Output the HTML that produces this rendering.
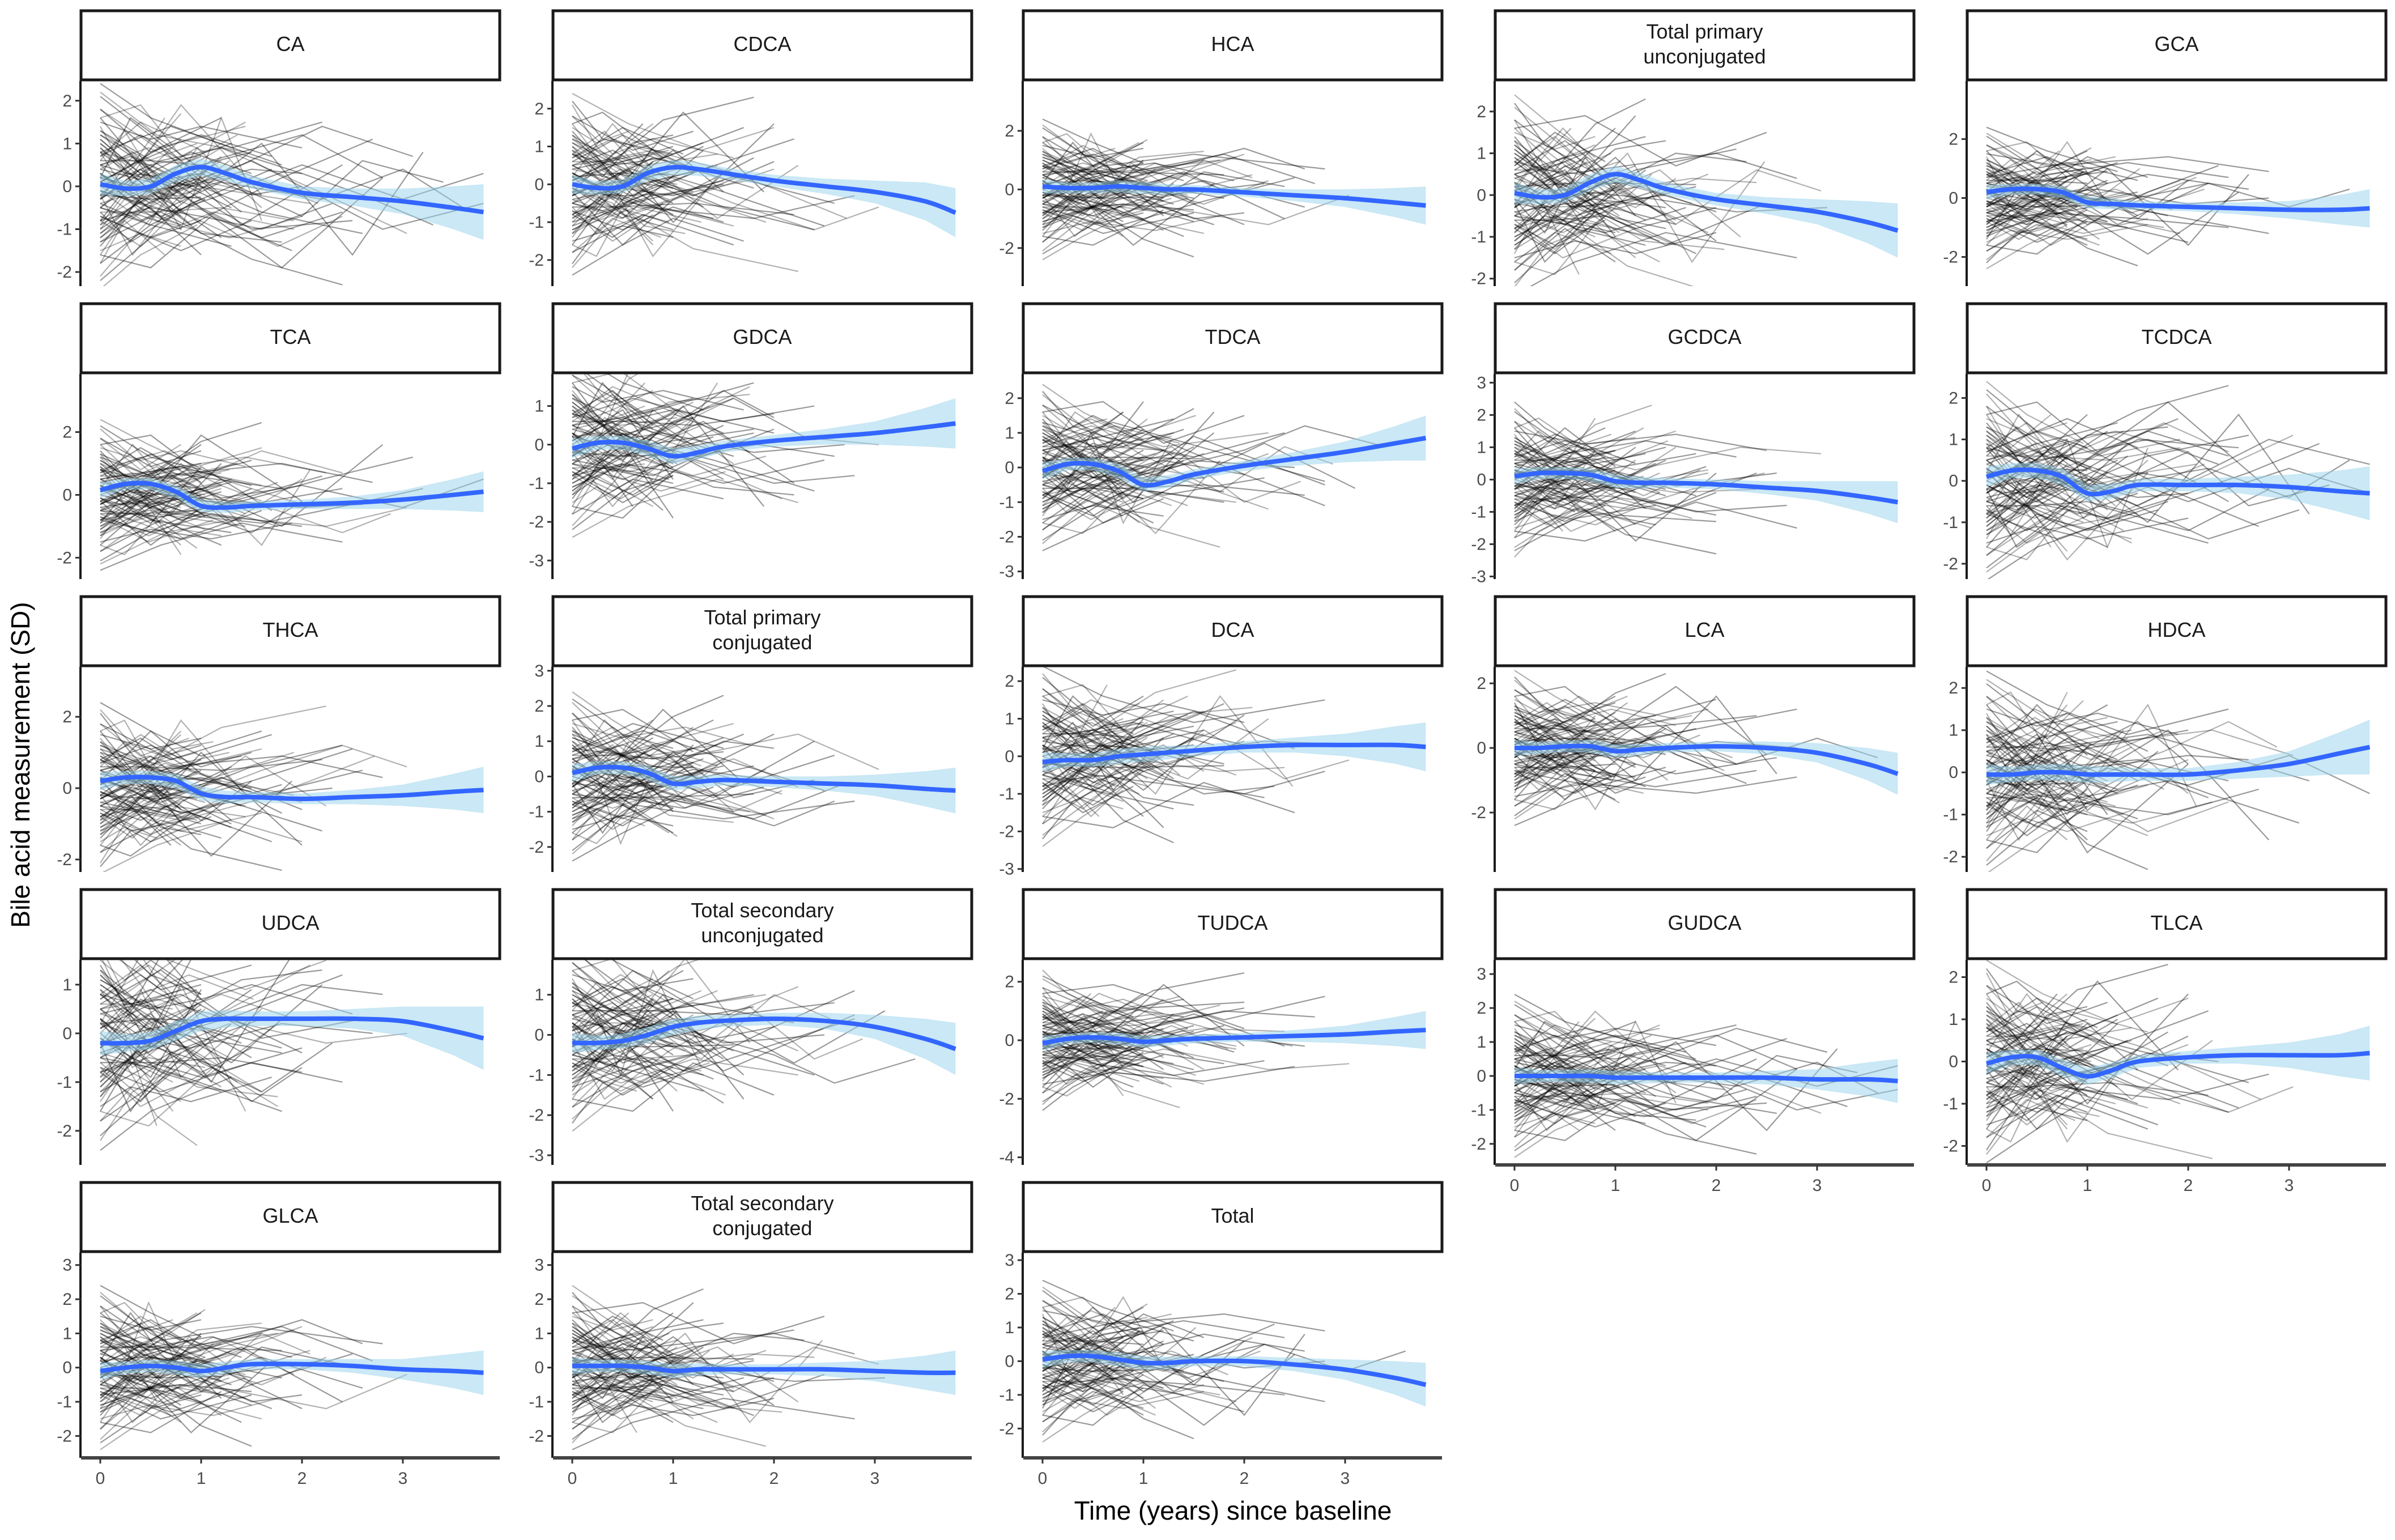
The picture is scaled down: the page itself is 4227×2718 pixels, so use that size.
<!DOCTYPE html>
<html><head><meta charset="utf-8">
<style>
html,body{margin:0;padding:0;background:#fff;}
svg{display:block;font-family:"Liberation Sans",Arial,sans-serif;}
</style></head>
<body>
<svg id="fig" width="4227" height="2718" viewBox="0 0 4227 2718" xmlns="http://www.w3.org/2000/svg">
<rect width="4227" height="2718" fill="#fff"/>
<text x="2176" y="2682" font-size="46" text-anchor="middle" fill="#000">Time (years) since baseline</text>
<text x="0" y="0" font-size="46" text-anchor="middle" fill="#000" transform="translate(52,1350) rotate(-90)">Bile acid measurement (SD)</text>
</svg>
<script>
// ---- data ----
const panelNames = ["CA","CDCA","HCA","Total primary|unconjugated","GCA",
 "TCA","GDCA","TDCA","GCDCA","TCDCA",
 "THCA","Total primary|conjugated","DCA","LCA","HDCA",
 "UDCA","Total secondary|unconjugated","TUDCA","GUDCA","TLCA",
 "GLCA","Total secondary|conjugated","Total"];
const yTop = [2.46,2.73,3.7,2.73,3.97, 3.85,1.83,2.70,3.27,2.58, 3.40,3.11,2.38,2.51,2.5, 1.51,1.87,2.75,3.42,2.41, 3.36,3.36,3.22];
const yBottom = [-2.33,-2.69,-3.3,-2.18,-2.99, -2.68,-3.48,-3.22,-3.08,-2.37, -2.35,-2.71,-3.08,-3.84,-2.36, -2.70,-3.24,-4.26,-2.62,-2.45, -2.64,-2.64,-2.87];
const yTicks = [[-2,-1,0,1,2],[-2,-1,0,1,2],[-2,0,2],[-2,-1,0,1,2],[-2,0,2],
 [-2,0,2],[-3,-2,-1,0,1],[-3,-2,-1,0,1,2],[-3,-2,-1,0,1,2,3],[-2,-1,0,1,2],
 [-2,0,2],[-2,-1,0,1,2,3],[-3,-2,-1,0,1,2],[-2,0,2],[-2,-1,0,1,2],
 [-2,-1,0,1],[-3,-2,-1,0,1],[-4,-2,0,2],[-2,-1,0,1,2,3],[-2,-1,0,1,2],
 [-2,-1,0,1,2,3],[-2,-1,0,1,2,3],[-2,-1,0,1,2,3]];
const xTicks = [0,1,2,3];
const smoothT = [0,0.25,0.5,0.75,1,1.25,1.5,2,2.5,3,3.5,3.8];
const smoothY = [
 [0.05,-0.05,0,0.3,0.45,0.3,0.1,-0.15,-0.25,-0.35,-0.5,-0.6],
 [0,-0.1,-0.05,0.3,0.45,0.4,0.3,0.1,-0.05,-0.2,-0.45,-0.75],
 [0.1,0.05,0.05,0.1,0.05,0,0,-0.1,-0.2,-0.3,-0.45,-0.55],
 [0.05,-0.05,0,0.3,0.5,0.35,0.15,-0.1,-0.25,-0.4,-0.65,-0.85],
 [0.2,0.3,0.3,0.2,-0.15,-0.2,-0.25,-0.3,-0.35,-0.4,-0.4,-0.35],
 [0.15,0.35,0.35,0.1,-0.35,-0.4,-0.35,-0.3,-0.25,-0.15,0,0.1],
 [-0.1,0.05,0.05,-0.1,-0.3,-0.2,-0.05,0.1,0.2,0.3,0.45,0.55],
 [-0.1,0.1,0.1,-0.1,-0.5,-0.4,-0.2,0.05,0.25,0.45,0.7,0.85],
 [0.1,0.2,0.2,0.15,-0.05,-0.1,-0.1,-0.15,-0.25,-0.35,-0.55,-0.7],
 [0.1,0.25,0.25,0.1,-0.3,-0.25,-0.1,-0.1,-0.1,-0.15,-0.25,-0.3],
 [0.2,0.3,0.3,0.2,-0.15,-0.25,-0.25,-0.3,-0.25,-0.2,-0.1,-0.05],
 [0.1,0.25,0.25,0.1,-0.2,-0.15,-0.1,-0.15,-0.2,-0.25,-0.35,-0.4],
 [-0.15,-0.1,-0.1,0,0.05,0.1,0.15,0.25,0.3,0.3,0.3,0.25],
 [0,0,0.05,0.05,-0.1,-0.05,0,0.05,0,-0.15,-0.5,-0.8],
 [-0.05,-0.05,0,0,-0.05,-0.05,-0.05,-0.05,0.05,0.2,0.45,0.6],
 [-0.2,-0.2,-0.15,0.05,0.25,0.3,0.3,0.3,0.3,0.25,0.05,-0.1],
 [-0.2,-0.2,-0.15,0,0.2,0.3,0.35,0.4,0.35,0.2,-0.1,-0.35],
 [-0.1,0.05,0.1,0.05,-0.05,0,0.05,0.1,0.15,0.2,0.3,0.35],
 [0,0,0,0,-0.05,-0.05,-0.05,-0.05,-0.05,-0.1,-0.1,-0.15],
 [-0.05,0.1,0.1,-0.15,-0.35,-0.2,0,0.1,0.15,0.15,0.15,0.2],
 [-0.1,0,0.05,0,-0.1,0,0.1,0.1,0.05,-0.05,-0.1,-0.15],
 [0.05,0.05,0.05,0,-0.1,-0.05,-0.05,-0.05,-0.05,-0.1,-0.15,-0.15],
 [0.05,0.15,0.15,0.05,-0.05,-0.05,0,0,-0.1,-0.25,-0.5,-0.7]];
const ribbonHalf = [0.25,0.18,0.18,0.2,0.2,0.18,0.15,0.15,0.2,0.3,0.5,0.65];
const subjects = [
[[0,1.2],[0.5,0.4],[1,-0.3]],
[[0,-0.5],[0.4,0.2],[0.9,0.8],[1.5,0.3]],
[[0,2.1],[0.6,1.0],[1.2,-0.2]],
[[0,-1.2],[0.3,-0.6],[0.8,-1.0]],
[[0,0.3],[0.5,-0.4],[1.1,0.6],[2.0,1.2],[2.8,0.2]],
[[0,-0.2],[0.5,-0.3],[1.0,-0.25]],
[[0,0.8],[0.7,1.4],[1.8,0.5]],
[[0,-1.8],[0.5,-0.9],[1.3,-1.4]],
[[0,0.5],[0.3,0.7],[0.6,0.2],[1.0,-0.5],[1.6,-1.2],[2.4,-0.6]],
[[0,-0.7],[0.8,-1.5],[1.5,-0.8]],
[[0,1.5],[0.5,1.1],[1.0,1.4],[2.0,0.9]],
[[0,-0.4],[0.4,-0.8],[1.2,0.1],[2.2,-0.3],[3.0,0.4],[3.6,-0.5]],
[[0,0.1],[0.6,0.9],[1.4,-0.9],[2.4,0.5]],
[[0,-1.0],[0.5,-0.2],[1.0,-1.1],[1.8,-1.3]],
[[0,1.0],[0.4,0.3],[0.9,0.0]],
[[0,-0.1],[0.7,-0.6],[1.6,1.0],[2.5,-1.6],[3.2,0.8]],
[[0,0.6],[0.5,0.6],[1.0,0.5],[1.5,0.8]],
[[0,-1.4],[0.6,0.3],[1.3,-0.5]],
[[0,0.2],[0.3,1.6],[1.0,0.4],[2.0,-0.7],[2.6,0.6],[3.4,0.1]],
[[0,-0.8],[0.5,-0.5],[1.0,-0.7],[1.6,-1.0],[2.3,-0.4]],
[[0,1.8],[0.5,0.8],[1.2,1.6]],
[[0,-0.3],[0.4,0.4],[0.8,-0.2],[1.3,0.2]],
[[0,0.9],[0.6,-0.3],[1.5,0.6],[2.8,-1.0],[3.8,-0.4]],
[[0,-2.2],[0.5,-1.2],[1.0,-0.8]],
[[0,0.4],[0.5,0.1],[1.0,0.3],[1.5,-0.2],[2.0,0.0]],
[[0,-0.6],[0.3,-1.3],[0.9,-0.4],[1.7,0.4]],
[[0,1.3],[0.8,0.2],[1.6,-0.6],[2.6,-1.1]],
[[0,0.0],[0.5,0.5],[1.0,-0.1]],
[[0,-0.9],[0.6,-0.1],[1.4,0.5],[2.2,1.4],[3.1,0.7]],
[[0,0.7],[0.4,1.2],[0.8,0.6],[1.3,1.0]],
[[0,-1.6],[0.5,-1.9],[1.1,-0.7],[1.9,-1.5]],
[[0,0.3],[0.6,-0.7],[1.2,-0.2],[2.0,0.5],[3.0,-0.3],[3.8,0.3]],
[[0,-0.2],[0.5,0.8],[1.0,1.2],[1.7,0.7]],
[[0,1.1],[0.3,0.5],[0.7,0.9]],
[[0,-0.5],[0.5,-0.9],[1.0,-0.3],[1.5,-1.0],[2.5,-0.8]],
[[0,0.5],[0.7,0.0],[1.8,-1.9],[2.8,0.2]],
[[0,-1.1],[0.4,-0.3],[0.9,0.3],[1.4,-0.6]],
[[0,2.4],[0.5,1.6],[1.3,0.9],[2.2,1.5]],
[[0,-0.1],[0.5,-0.5],[1.0,-1.6]],
[[0,0.8],[0.4,0.1],[0.9,-0.9],[1.8,0.2],[2.7,1.1]],
[[0,-0.3],[0.6,0.6],[1.2,0.9],[2.0,0.3],[2.6,-0.2],[3.3,-0.9]],
[[0,1.6],[0.5,0.2],[1.0,0.7]],
[[0,-0.8],[0.3,0.1],[0.7,-0.4],[1.2,-1.2]],
[[0,0.2],[0.5,-0.1],[1.0,0.1],[1.5,0.4],[2.0,0.3]],
[[0,-1.3],[0.6,-0.6],[1.5,-1.7],[2.4,-2.3]]];

// ---- layout ----
const NS = "http://www.w3.org/2000/svg";
const svg = document.getElementById("fig");
const colLeft = [143,976,1806,2639,3472];
const stripW = 739, stripH = 126, plotH = 362, rowPitch = 517, top0 = 17;
const xAxisPanels = [18,19,20,21,22];
function mk(tag, attrs, parent){
  const e = document.createElementNS(NS, tag);
  for (const k in attrs) e.setAttribute(k, attrs[k]);
  (parent||svg).appendChild(e);
  return e;
}
function smoothPath(pts){
  let d = "M"+pts[0][0]+","+pts[0][1];
  for (let i=0;i<pts.length-1;i++){
    const p0=pts[Math.max(0,i-1)],p1=pts[i],p2=pts[i+1],p3=pts[Math.min(pts.length-1,i+2)];
    const c1x=p1[0]+(p2[0]-p0[0])/6,c1y=p1[1]+(p2[1]-p0[1])/6;
    const c2x=p2[0]-(p3[0]-p1[0])/6,c2y=p2[1]-(p3[1]-p1[1])/6;
    d+=" C"+c1x+","+c1y+" "+c2x+","+c2y+" "+p2[0]+","+p2[1];
  }
  return d;
}
panelNames.forEach((name,p)=>{
  const col=p%5,row=Math.floor(p/5);
  const L=colLeft[col], sT=top0+row*rowPitch, pT=sT+stripH, pB=pT+plotH;
  const xS=t=>L+34+t*178;
  const yS=v=>pT+(yTop[p]-v)/(yTop[p]-yBottom[p])*plotH;
  const g=mk("g",{});
  
  
  const clipId="c"+p;
  const cp=mk("clipPath",{id:clipId},g);
  mk("rect",{x:L,y:pT,width:stripW,height:plotH},cp);
  const sr=mk("rect",{x:L,y:sT+2,width:stripW,height:stripH-4,fill:"#fff",stroke:"#1a1a1a","stroke-width":5},g);
  
  
  const parts=name.split("|");
  parts.forEach((s,i)=>{
    const tx=mk("text",{x:L+stripW/2,y:sT+stripH/2+10+(i-(parts.length-1)/2)*44,"font-size":36,"text-anchor":"middle",fill:"#1a1a1a"},g);
    tx.textContent=s;
    
    
  });
  const pg=mk("g",{"clip-path":"url(#"+clipId+")"},g);
  [0,1].forEach(pass=>{
    subjects.forEach((s,j)=>{
      const vs=subjects[(j+5*p+17*pass)%subjects.length];
      const n=Math.min(s.length,vs.length);
      if(n<2) return;
      const sg=((p+pass)%2)?-1:1;
      const pts=[];
      for(let k=0;k<n;k++) pts.push(xS(s[k][0]*(pass?0.8:1)).toFixed(1)+","+yS(sg*vs[k][1]).toFixed(1));
      const pl=mk("polyline",{points:pts.join(" "),fill:"none",stroke:pass?"rgba(0,0,0,0.3)":"rgba(0,0,0,0.4)","stroke-width":2.2},pg);
      
      
    });
  });
  const up=smoothT.map((t,i)=>[xS(t),yS(smoothY[p][i]+ribbonHalf[i])]);
  const lo=smoothT.map((t,i)=>[xS(t),yS(smoothY[p][i]-ribbonHalf[i])]).reverse();
  const rb=mk("polygon",{points:up.concat(lo).map(q=>q[0].toFixed(1)+","+q[1].toFixed(1)).join(" "),fill:"rgba(150,210,235,0.5)"},pg);
  
  
  const ln=mk("path",{d:smoothPath(smoothT.map((t,i)=>[xS(t),yS(smoothY[p][i])])),fill:"none",stroke:"#3366FF","stroke-width":8},pg);
  
  
  const ya=mk("line",{x1:L-1,y1:pT,x2:L-1,y2:pB,stroke:"#1a1a1a","stroke-width":4},g);
  
  
  yTicks[p].forEach(v=>{
    const y=yS(v);
    mk("line",{x1:L-10,y1:y,x2:L-1,y2:y,stroke:"#333","stroke-width":3},g);
    const tl=mk("text",{x:L-16,y:y+10,"font-size":30,"text-anchor":"end",fill:"#4d4d4d"},g);
    tl.textContent=v<0?"-"+(-v):String(v);
    
    
  });
  if(xAxisPanels.includes(p)){
    const xa=mk("line",{x1:L,y1:pB,x2:L+stripW,y2:pB,stroke:"#444","stroke-width":6},g);
    
    
    xTicks.forEach(t=>{
      const x=xS(t);
      mk("line",{x1:x,y1:pB,x2:x,y2:pB+10,stroke:"#333","stroke-width":3},g);
      const tl=mk("text",{x:x,y:pB+46,"font-size":30,"text-anchor":"middle",fill:"#4d4d4d"},g);
      tl.textContent=String(t);
      
      
    });
  }
});
</script>
</body></html>
